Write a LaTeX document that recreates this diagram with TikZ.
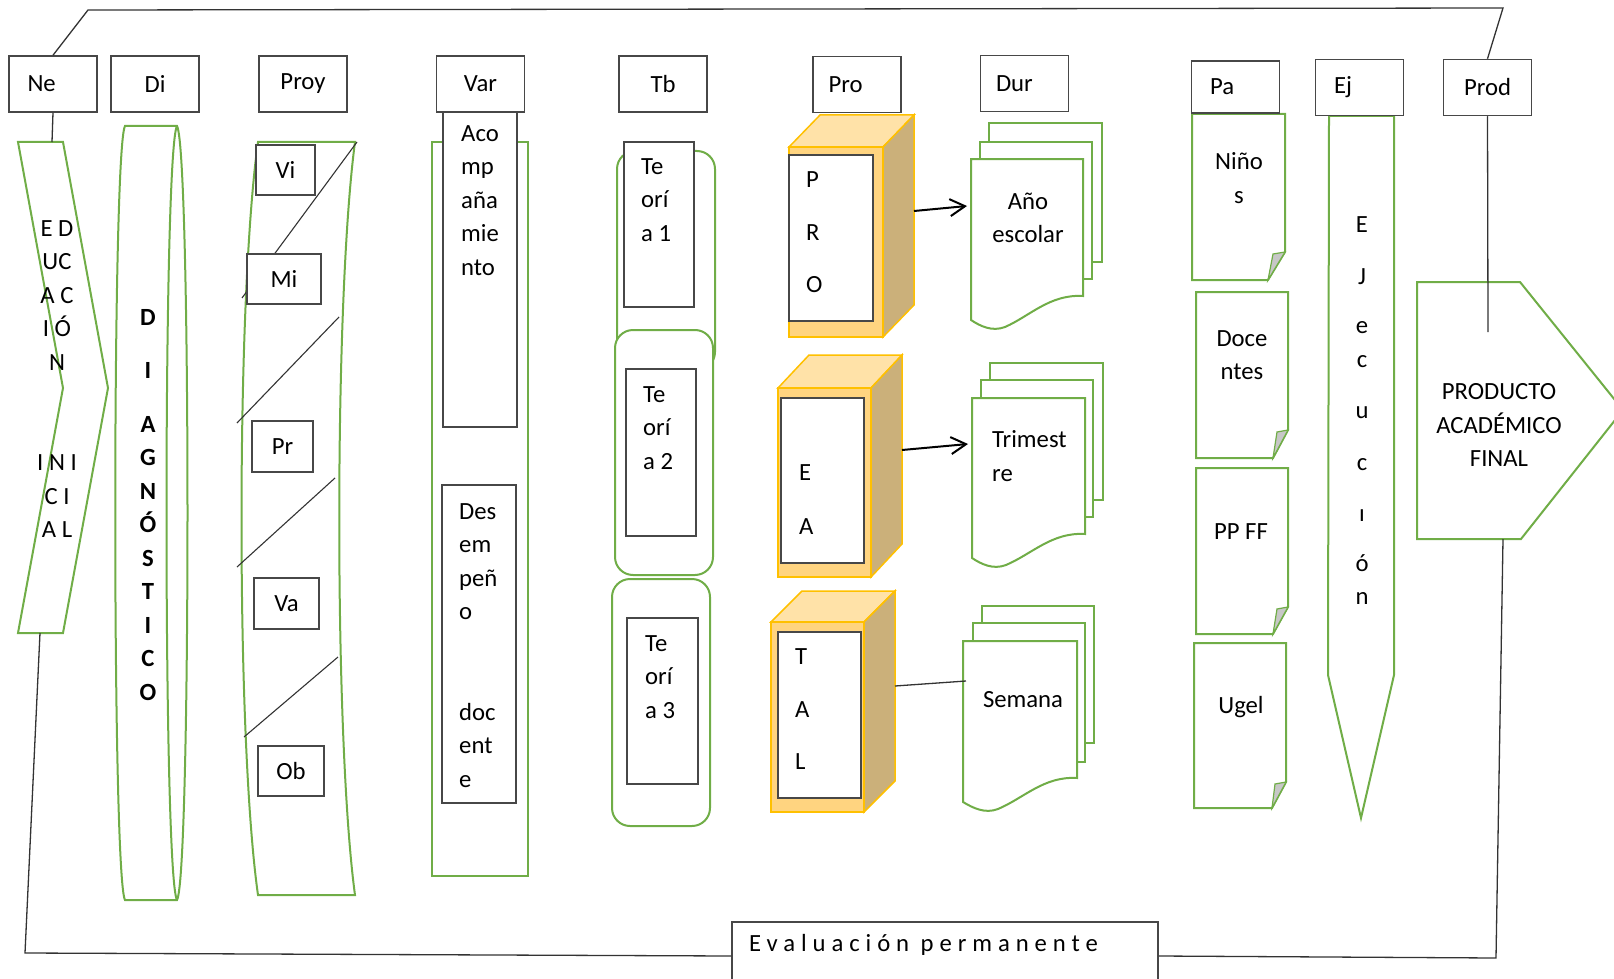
\documentclass[tikz,border=0pt]{standalone}
\usepackage{fontspec}
\setmainfont{Carlito}
\usetikzlibrary{positioning,arrows.meta}

\definecolor{leafgreen}{HTML}{70AD47}
\definecolor{boxgold}{HTML}{FFC000}
\definecolor{cubefront}{HTML}{FFD480}
\definecolor{cubetop}{HTML}{FFE2A8}
\definecolor{cubeside}{HTML}{CBB07A}

\newcommand{\bodyfont}{\fontsize{24.7pt}{33.5pt}\selectfont}

\tikzset{
  head/.style={draw=black!72, line width=1.5pt, fill=white, minimum width=88pt, minimum height=56pt, inner sep=0pt},
  headleft/.style={align=left, text width=51pt},
  headmid/.style={align=left, text width=57pt},
  inbox/.style={draw=black!72, line width=1.5pt, fill=white, inner sep=0pt},
  leaf/.style={draw=leafgreen, line width=2pt, fill=white},
  txt/.style={inner sep=0pt, align=left},
  ctxt/.style={inner sep=0pt, align=center},
  cube/.style={draw=boxgold, line width=1.5pt},
  rule/.style={draw=black!80, line width=1.3pt},
}

\begin{document}
\begin{tikzpicture}[x=1pt, y=-1pt, font=\bodyfont]
\useasboundingbox (0,0) rectangle (1614,979);

% Draw the green shapes under the headers
\draw[leaf] (18,142) -- (63,142) -- (108,388) -- (63,633) -- (18,633) -- (63,388) -- cycle;
\draw[leaf] (125,126) -- (177,126) .. controls (191,150) and (191,876) .. (177,900) -- (125,900) .. controls (112,876) and (112,150) .. (125,126) -- cycle;
\draw[leaf, fill=none] (177,126) .. controls (163,150) and (163,876) .. (177,900);
\draw[leaf] (258,142) -- (355,142) .. controls (334,300) and (334,740) .. (355,895) -- (258,895) .. controls (236,740) and (236,300) .. (258,142) -- cycle;
\draw[leaf] (432,142) rectangle (528,876);

% Draw the rounded frames of the theories
\draw[leaf, rounded corners=18pt] (617,151) rectangle (715,370);
\draw[leaf, rounded corners=18pt] (615,330) rectangle (713,575);
\draw[leaf, rounded corners=18pt] (612,579) rectangle (710,826);

% Draw the diagonals inside Proy
\draw[rule, line width=1.1pt] (357,142) -- (242,298);
\draw[rule, line width=1.1pt] (339,317) -- (237,423);
\draw[rule, line width=1.1pt] (335,478) -- (237,567);
\draw[rule, line width=1.1pt] (338,657) -- (244,737);

% Draw the small boxes
\node[inbox, minimum width=59pt, minimum height=50pt] (vi) at (285.5,170) {Vi};
\node[inbox, minimum width=74pt, minimum height=50pt] (mi) at (284,279) {Mi};
\node[inbox, minimum width=61pt, minimum height=51pt] (pr) at (282.5,446.5) {Pr};
\node[inbox, minimum width=65pt, minimum height=51pt] (va) at (286.5,603.5) {Va};
\node[inbox, minimum width=66pt, minimum height=50pt] (ob) at (291,771) {Ob};

\node[inbox, minimum width=74pt, minimum height=315pt] (acomp) at (480,269.5) {};
\node[inbox, minimum width=74pt, minimum height=318pt] (desemp) at (479,644) {};
\node[inbox, minimum width=70pt, minimum height=165pt] (teo1) at (659,224.5) {};
\node[inbox, minimum width=70pt, minimum height=167pt] (teo2) at (661,452.5) {};
\node[inbox, minimum width=71pt, minimum height=166pt] (teo3) at (662.5,701) {};

% Texts of the columns
\node[ctxt] (edtxt) at (57,379) {E D\\UC\\A C\\I Ó\\N\\[67pt]I N I\\C I\\A L};
\node[ctxt, font=\bodyfont\bfseries] (ditxt) at (148,505) {D\\[20pt]I\\[20pt]A\\G\\N\\Ó\\S\\T\\I\\C\\O};
\node[txt, anchor=west] (acomptxt) at (461,200.5) {Aco\\mp\\aña\\mie\\nto};
\node[txt, anchor=west] (desemptxt) at (459,645.5) {Des\\em\\peñ\\o\\[67pt]doc\\ent\\e};
\node[txt, anchor=west] (teo1txt) at (641,200) {Te\\orí\\a 1};
\node[txt, anchor=west] (teo2txt) at (643,428) {Te\\orí\\a 2};
\node[txt, anchor=west] (teo3txt) at (645,677) {Te\\orí\\a 3};

% Draw the PRO cube
\draw[cube, fill=cubetop] (789,147) -- (820,115) -- (914,115) -- (883,147) -- cycle;
\draw[cube, fill=cubeside] (883,147) -- (914,115) -- (914,305) -- (883,337) -- cycle;
\draw[cube, fill=cubefront] (789,147) rectangle (883,337);
\node[inbox, minimum width=84pt, minimum height=166pt] (proin) at (831,238) {};
\node[txt, anchor=west] (protxt) at (806,232.5) {P\\[19pt]R\\[19pt]O};

% Draw the EA cube
\draw[cube, fill=cubetop] (778,388) -- (809,355) -- (902,355) -- (871,388) -- cycle;
\draw[cube, fill=cubeside] (871,388) -- (902,355) -- (902,544) -- (871,577) -- cycle;
\draw[cube, fill=cubefront] (778,388) rectangle (871,577);
\node[inbox, minimum width=83pt, minimum height=165pt] (eain) at (822.5,480.5) {};
\node[txt, anchor=west] (eatxt) at (799,500) {E\\[20.5pt]A};

% Draw the TAL cube
\draw[cube, fill=cubetop] (771,622) -- (802,591) -- (895,591) -- (864,622) -- cycle;
\draw[cube, fill=cubeside] (864,622) -- (895,591) -- (895,781) -- (864,812) -- cycle;
\draw[cube, fill=cubefront] (771,622) rectangle (864,812);
\node[inbox, minimum width=83pt, minimum height=166pt] (talin) at (819.5,715) {};
\node[txt, anchor=west] (taltxt) at (795,709.5) {T\\[19pt]A\\[19pt]L};

% Draw the page stacks
\draw[leaf] (989,123) rectangle (1102,262);
\draw[leaf] (980,142) rectangle (1092,279);
\draw[leaf] (971,159) -- (1083,159) -- (1083,296) .. controls (1050,294) and (1030,316) .. (1005,327) .. controls (992,332) and (980,326) .. (971,320) -- cycle;
\node[ctxt] (anotxt) at (1028,218) {Año\\escolar};

\draw[leaf] (990,363) rectangle (1103,500);
\draw[leaf] (981,380) rectangle (1093,517);
\draw[leaf] (972,398) -- (1085,398) -- (1085,534) .. controls (1052,532) and (1032,554) .. (1006,565) .. controls (993,570) and (981,564) .. (972,558) -- cycle;
\node[txt, anchor=west] (tritxt) at (992,456) {Trimest\\re};

\draw[leaf] (982,606) rectangle (1094,743);
\draw[leaf] (973,623) rectangle (1085,762);
\draw[leaf] (963,641) -- (1077,641) -- (1077,778) .. controls (1044,776) and (1024,798) .. (998,809) .. controls (985,814) and (973,808) .. (963,802) -- cycle;
\node (semtxt) at (1023,700) {Semana};

% Draw the links from the cubes to the pages
\coordinate (proside) at (914,211);
\coordinate (anoleft) at (967,206);
\coordinate (easide) at (902,450);
\coordinate (trileft) at (968,444);
\coordinate (talside) at (895,686);
\coordinate (semleft) at (966,681);
\draw[-{Straight Barb[length=15pt,width=17pt]}, line width=2pt] (proside) -- (anoleft);
\draw[-{Straight Barb[length=15pt,width=17pt]}, line width=2pt] (easide) -- (trileft);
\draw[rule] (talside) -- (semleft);

% Draw the folded notes
\draw[leaf] (1192,114) -- (1285,114) -- (1285,252) -- (1268,280) -- (1192,280) -- cycle;
\draw[leaf, fill=black!22, line width=1.2pt] (1268,280) -- (1273,254) -- (1285,252) -- cycle;
\node[ctxt] (ninotxt) at (1239,178) {Niño\\s};

\draw[leaf] (1196,292) -- (1288,292) -- (1288,430) -- (1273,458) -- (1196,458) -- cycle;
\draw[leaf, fill=black!22, line width=1.2pt] (1273,458) -- (1277,432) -- (1288,430) -- cycle;
\node[ctxt] (docetxt) at (1242,355) {Doce\\ntes};

\draw[leaf] (1196,468) -- (1288,468) -- (1288,607) -- (1273,634) -- (1196,634) -- cycle;
\draw[leaf, fill=black!22, line width=1.2pt] (1273,634) -- (1277,609) -- (1288,607) -- cycle;
\node (ppfftxt) at (1241,532) {PP FF};

\draw[leaf] (1194,643) -- (1286,643) -- (1286,782) -- (1272,808) -- (1194,808) -- cycle;
\draw[leaf, fill=black!22, line width=1.2pt] (1272,808) -- (1275,784) -- (1286,782) -- cycle;
\node (ugeltxt) at (1241,707) {Ugel};

% Draw the Ej arrow and the final product
\draw[leaf] (1329,116) -- (1394,116) -- (1394,675) -- (1361,818) -- (1328,675) -- cycle;
\node[ctxt] (ejtxt) at (1362,411) {E\\[18pt]J\\[16pt]e\\c\\[18pt]u\\[18pt]c\\[18pt]ı\\[16pt]ó\\n};

\draw[leaf] (1417,282) -- (1520,282) -- (1623,410) -- (1521,539) -- (1417,539) -- cycle;
\node[ctxt] (prodtxt) at (1499,425) {PRODUCTO\\ACADÉMICO\\FINAL};

% Draw the evaluation box
\node[inbox, minimum width=426pt, minimum height=68pt] (eval) at (945,956) {};
\node[txt, anchor=west, font=\bodyfont\addfontfeature{LetterSpace=24}] (evaltxt) at (749,945) {Evaluación permanente};

% Draw the header boxes
\node[head, headleft] (ne) at (53,84) {Ne};
\node[head] (di) at (155,84) {Di};
\node[head] (proy) at (303,84) {Proy};
\node[head] (var) at (480.5,84) {Var};
\node[head] (tb) at (663,84) {Tb};
\node[head, headmid] (pro) at (857,84.5) {Pro};
\node[head, headmid] (dur) at (1024.5,83.5) {Dur};
\node[head, headleft, minimum height=52pt] (pa) at (1235.5,87) {Pa};
\node[head, headleft] (ej) at (1359.5,87.5) {Ej};
\node[head] (prod) at (1487.5,87.5) {Prod};

% Draw the outer loop
\coordinate (nechev) at (52,142);
\coordinate (chevbot) at (40,633);
\coordinate (prodin) at (1488,332);
\coordinate (prodbot) at (1503,539);
\draw[rule] (ne.south) -- (nechev);
\draw[rule] (ne.north) -- (88,10) -- (1503,8) -- (prod.north);
\draw[rule] (prod.south) -- (prodin);
\draw[rule] (chevbot) -- (25,953) -- (eval.west);
\draw[rule] (prodbot) -- (1496,958) -- (eval.east);

\end{tikzpicture}
\end{document}
